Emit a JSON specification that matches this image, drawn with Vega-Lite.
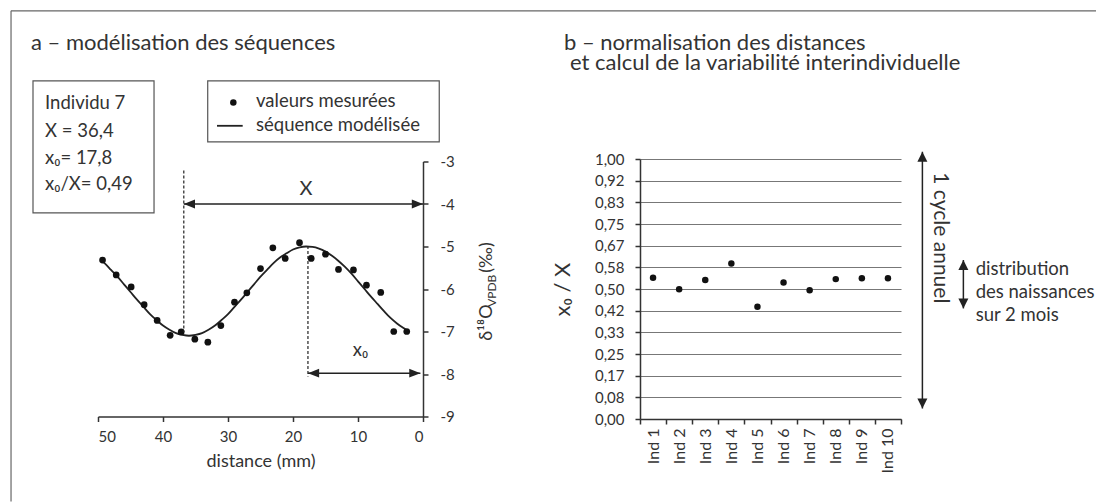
{
  "$schema": "https://vega.github.io/schema/vega-lite/v6.json",
  "background": "white",
  "padding": {"left": 10, "top": 10, "right": 0, "bottom": 0},
  "autosize": {"type": "pad"},
  "bounds": "flush",
  "center": true,
  "spacing": 217,
  "config": {
    "font": "Lato",
    "view": {"stroke": null},
    "axis": {"labelFont": "Lato", "titleFont": "Lato", "labelColor": "#333", "titleColor": "#333", "domainColor": "#333", "tickColor": "#333", "domainWidth": 1.5, "tickWidth": 1.5, "titleFontWeight": "normal", "grid": false},
    "text": {"font": "Lato", "color": "#333"}
  },
  "hconcat": [
    {
      "width": 325,
      "height": 255,
      "encoding": {
        "x": {"field": "d", "type": "quantitative", "scale": {"domain": [0, 50], "reverse": true, "nice": false, "zero": false},
          "axis": {"values": [0, 10, 20, 30, 40, 50], "format": "d", "tickSize": 5, "labelFontSize": 15, "labelPadding": 8, "title": "distance (mm)", "titleFontSize": 18, "titlePadding": 8}},
        "y": {"field": "v", "type": "quantitative", "scale": {"domain": [-9, -3], "nice": false, "zero": false},
          "axis": {"orient": "right", "values": [-9, -8, -7, -6, -5, -4, -3], "labelExpr": "'-' + (-datum.value)", "tickSize": 5, "labelFontSize": 15, "labelPadding": 12, "title": null}}
      },
      "layer": [
        {"data": {"values": [{"d": 63.38, "d2": -103.6, "v": 0.546}]}, "mark": {"type": "rule", "color": "#666", "strokeWidth": 1.2}, "encoding": {"x2": {"field": "d2"}}},
        {"data": {"values": [{"d": 63.38, "v": 0.546, "v2": -11.0}]}, "mark": {"type": "rule", "color": "#666", "strokeWidth": 1.2}, "encoding": {"y2": {"field": "v2"}}},
        {"data": {"values": [{"d": 60.0, "d2": 41.38, "v": -1.101, "v2": -4.21}, {"d": 33.12, "d2": -2.5, "v": -1.101, "v2": -2.536}]},
          "mark": {"type": "rect", "fill": "white", "stroke": "#555", "strokeWidth": 1.2}, "encoding": {"x2": {"field": "d2"}, "y2": {"field": "v2"}}},
        {"data": {"values": [{"d": 60.31, "v": -0.379, "label": "a – modélisation des séquences"}]},
          "mark": {"type": "text", "align": "left", "baseline": "alphabetic", "fontSize": 22}, "encoding": {"text": {"field": "label"}}},
        {"data": {"values": [
            {"d": 58.15, "v": -1.767, "label": "Individu 7"},
            {"d": 58.15, "v": -2.435, "label": "X = 36,4"},
            {"d": 58.15, "v": -3.061, "label": "x₀= 17,8"},
            {"d": 58.15, "v": -3.673, "label": "x₀/X= 0,49"},
            {"d": 25.69, "v": -1.729, "label": "valeurs mesurées"},
            {"d": 25.69, "v": -2.278, "label": "séquence modélisée"},
            {"d": 10.82, "v": -7.572, "label": "x₀"}
          ]},
          "mark": {"type": "text", "align": "left", "baseline": "alphabetic", "fontSize": 18.5}, "encoding": {"text": {"field": "label"}}},
        {"data": {"values": [{"d": 18.0, "v": -3.784, "label": "X"}]},
          "mark": {"type": "text", "align": "center", "baseline": "alphabetic", "fontSize": 20}, "encoding": {"text": {"field": "label"}}},
        {"data": {"values": [{"d": -10.66, "v": -7.219, "label": "δ¹⁸O"}, {"d": -10.66, "v": -5.62, "label": "(‰)"}]},
          "mark": {"type": "text", "align": "left", "baseline": "alphabetic", "angle": 270, "fontSize": 18}, "encoding": {"text": {"field": "label"}}},
        {"data": {"values": [{"d": -11.28, "v": -6.42, "label": "VPDB"}]},
          "mark": {"type": "text", "align": "left", "baseline": "alphabetic", "angle": 270, "fontSize": 12}, "encoding": {"text": {"field": "label"}}},
        {"data": {"values": [{"d": 31.69, "d2": 27.74, "v": -2.16}]}, "mark": {"type": "rule", "color": "#222", "strokeWidth": 1.8}, "encoding": {"x2": {"field": "d2"}}},
        {"data": {"values": [{"d": 29.18, "v": -1.612}]}, "mark": {"type": "circle", "size": 42, "color": "#111", "opacity": 1}},
        {"data": {"values": [
            {"d": 49.5, "v": -5.33}, {"d": 49, "v": -5.39}, {"d": 48, "v": -5.55}, {"d": 47, "v": -5.71}, {"d": 46, "v": -5.89},
            {"d": 45, "v": -6.07}, {"d": 44, "v": -6.25}, {"d": 43, "v": -6.42}, {"d": 42, "v": -6.59}, {"d": 41, "v": -6.73},
            {"d": 40, "v": -6.86}, {"d": 39, "v": -6.96}, {"d": 38, "v": -7.04}, {"d": 37, "v": -7.08}, {"d": 36, "v": -7.10},
            {"d": 35, "v": -7.08}, {"d": 34, "v": -7.04}, {"d": 33, "v": -6.96}, {"d": 32, "v": -6.86}, {"d": 31, "v": -6.73},
            {"d": 30, "v": -6.59}, {"d": 29, "v": -6.42}, {"d": 28, "v": -6.25}, {"d": 27, "v": -6.07}, {"d": 26, "v": -5.89},
            {"d": 25, "v": -5.71}, {"d": 24, "v": -5.55}, {"d": 23, "v": -5.39}, {"d": 22, "v": -5.26}, {"d": 21, "v": -5.16},
            {"d": 20, "v": -5.07}, {"d": 19, "v": -5.02}, {"d": 18, "v": -5.00}, {"d": 17, "v": -5.01}, {"d": 16, "v": -5.05},
            {"d": 15, "v": -5.12}, {"d": 14, "v": -5.22}, {"d": 13, "v": -5.34}, {"d": 12, "v": -5.48}, {"d": 11, "v": -5.64},
            {"d": 10, "v": -5.82}, {"d": 9, "v": -6.00}, {"d": 8, "v": -6.18}, {"d": 7, "v": -6.35}, {"d": 6, "v": -6.52},
            {"d": 5, "v": -6.68}, {"d": 4, "v": -6.81}, {"d": 3, "v": -6.92}, {"d": 2.5, "v": -6.97}
          ]},
          "mark": {"type": "line", "color": "#222", "strokeWidth": 1.8, "interpolate": "monotone"}},
        {"data": {"values": [
            {"d": 49.3, "v": -5.32}, {"d": 47.2, "v": -5.67}, {"d": 44.9, "v": -5.95}, {"d": 42.9, "v": -6.37}, {"d": 40.9, "v": -6.74},
            {"d": 38.9, "v": -7.09}, {"d": 37.2, "v": -7.01}, {"d": 35.1, "v": -7.18}, {"d": 33.1, "v": -7.25}, {"d": 31.1, "v": -6.86},
            {"d": 29.0, "v": -6.31}, {"d": 27.1, "v": -6.09}, {"d": 25.0, "v": -5.52}, {"d": 23.1, "v": -5.03}, {"d": 21.2, "v": -5.28},
            {"d": 19.0, "v": -4.91}, {"d": 17.2, "v": -5.28}, {"d": 15.0, "v": -5.18}, {"d": 13.0, "v": -5.54}, {"d": 10.7, "v": -5.55},
            {"d": 8.7, "v": -5.91}, {"d": 6.5, "v": -6.08}, {"d": 4.5, "v": -7.00}, {"d": 2.5, "v": -7.00}
          ]},
          "mark": {"type": "circle", "size": 45, "color": "#111", "opacity": 1}},
        {"data": {"values": [{"d": 36.8, "v": -3.21, "v2": -7.01}, {"d": 17.7, "v": -4.99, "v2": -8.06}]},
          "mark": {"type": "rule", "color": "#222", "strokeWidth": 1.2, "strokeDash": [3, 2]}, "encoding": {"y2": {"field": "v2"}}},
        {"data": {"values": [{"d": 36.8, "d2": 0, "v": -4}, {"d": 17.7, "d2": 0.4, "v": -7.98}]},
          "mark": {"type": "rule", "color": "#222", "strokeWidth": 1.5}, "encoding": {"x2": {"field": "d2"}}},
        {"data": {"values": [{"d": 36.8, "v": -4}, {"d": 17.7, "v": -7.98}]},
          "mark": {"type": "point", "shape": "M0,0L1,-0.4L1,0.4Z", "filled": true, "size": 500, "color": "#222", "opacity": 1}},
        {"data": {"values": [{"d": 0, "v": -4}, {"d": 0.4, "v": -7.98}]},
          "mark": {"type": "point", "shape": "M0,0L-1,-0.4L-1,0.4Z", "filled": true, "size": 500, "color": "#222", "opacity": 1}}
      ]
    },
    {
      "width": 261,
      "height": 260,
      "resolve": {"scale": {"x": "independent"}, "axis": {"x": "independent"}},
      "encoding": {
        "y": {"field": "r", "type": "quantitative", "scale": {"domain": [0, 1], "nice": false, "zero": false},
          "axis": {"values": [0, 0.0833333, 0.1666667, 0.25, 0.3333333, 0.4166667, 0.5, 0.5833333, 0.6666667, 0.75, 0.8333333, 0.9166667, 1],
            "labelExpr": "replace(format(datum.value, '.2f'), '.', ',')", "grid": true, "gridColor": "#777", "gridWidth": 1.2,
            "tickSize": 5, "labelFontSize": 15, "labelPadding": 11, "title": "x₀ / X", "titleFontSize": 22, "titlePadding": 20}}
      },
      "layer": [
        {
          "data": {"values": [
            {"ind": "Ind 1", "r": 0.543}, {"ind": "Ind 2", "r": 0.499}, {"ind": "Ind 3", "r": 0.535}, {"ind": "Ind 4", "r": 0.598},
            {"ind": "Ind 5", "r": 0.432}, {"ind": "Ind 6", "r": 0.525}, {"ind": "Ind 7", "r": 0.495}, {"ind": "Ind 8", "r": 0.538},
            {"ind": "Ind 9", "r": 0.541}, {"ind": "Ind 10", "r": 0.541}
          ]},
          "mark": {"type": "circle", "size": 42, "color": "#111", "opacity": 1},
          "encoding": {
            "x": {"field": "ind", "type": "nominal", "sort": null, "scale": {"paddingInner": 0, "paddingOuter": 0},
              "axis": {"tickBand": "extent", "labelAngle": 270, "tickSize": 5, "labelFontSize": 16, "labelPadding": 4, "title": null, "grid": false}}
          }
        },
        {
          "encoding": {
            "x": {"field": "ax", "type": "quantitative", "scale": {"domain": [0, 10], "nice": false, "zero": false}, "axis": null}
          },
          "layer": [
            {"data": {"values": [{"ax": -2.912, "r": 1.419, "label": "b – normalisation des distances"}, {"ax": -2.682, "r": 1.342, "label": "et calcul de la variabilité interindividuelle"}]},
              "mark": {"type": "text", "align": "left", "baseline": "alphabetic", "fontSize": 22}, "encoding": {"text": {"field": "label"}}},
            {"data": {"values": [{"ax": 12.86, "r": 0.554, "label": "distribution"}, {"ax": 12.86, "r": 0.464, "label": "des naissances"}, {"ax": 12.86, "r": 0.377, "label": "sur 2 mois"}]},
              "mark": {"type": "text", "align": "left", "baseline": "alphabetic", "fontSize": 18.5}, "encoding": {"text": {"field": "label"}}},
            {"data": {"values": [{"ax": 11.48, "r": 0.697, "label": "1 cycle annuel"}]},
              "mark": {"type": "text", "align": "center", "baseline": "middle", "angle": 90, "fontSize": 21}, "encoding": {"text": {"field": "label"}}},
            {"data": {"values": [{"ax": 10.82, "r": 0.0408, "r2": 1.028}, {"ax": 12.39, "r": 0.4254, "r2": 0.6115}]},
              "mark": {"type": "rule", "color": "#222", "strokeWidth": 1.5}, "encoding": {"y2": {"field": "r2"}}},
            {"data": {"values": [{"ax": 10.82, "r": 1.028}, {"ax": 12.39, "r": 0.6115}]},
              "mark": {"type": "point", "shape": "M0,0L-0.5,1L0.5,1Z", "filled": true, "size": 400, "color": "#222", "opacity": 1}},
            {"data": {"values": [{"ax": 10.82, "r": 0.0408}, {"ax": 12.39, "r": 0.4254}]},
              "mark": {"type": "point", "shape": "M0,0L-0.5,-1L0.5,-1Z", "filled": true, "size": 400, "color": "#222", "opacity": 1}}
          ]
        }
      ]
    }
  ]
}
